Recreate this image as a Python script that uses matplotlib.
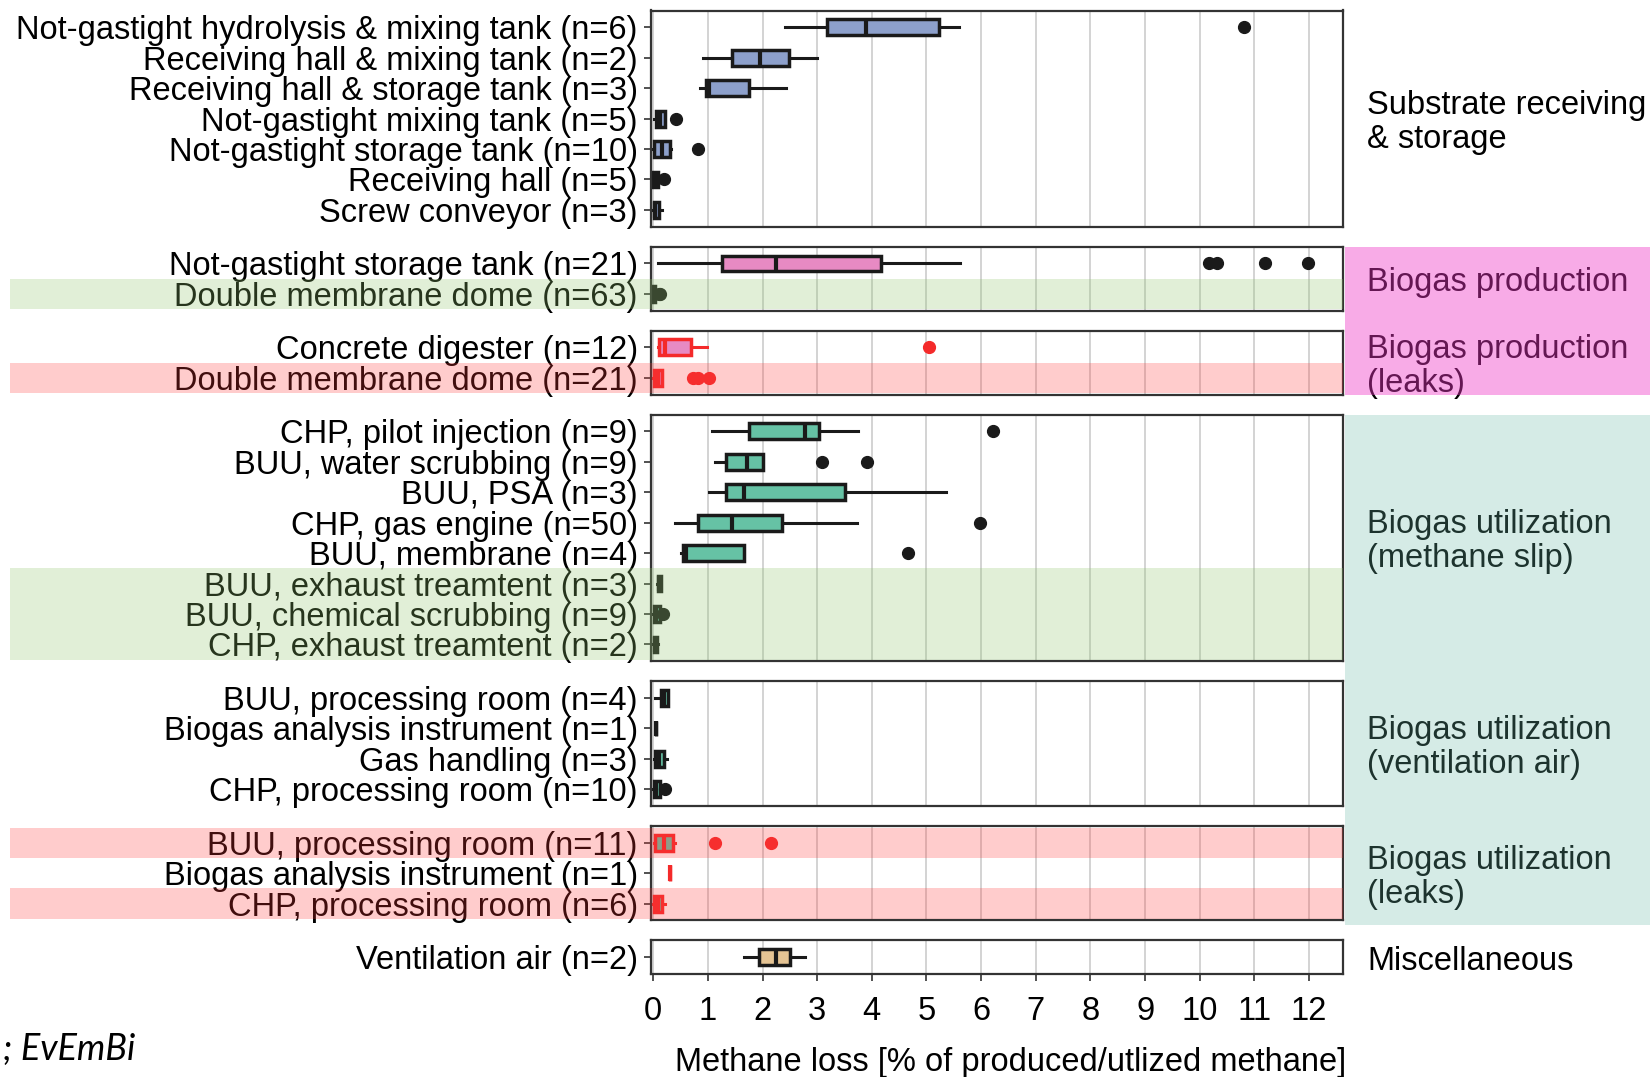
import matplotlib
matplotlib.use("Agg")
import matplotlib.pyplot as plt
from matplotlib.patches import Rectangle
from matplotlib.transforms import blended_transform_factory

# ---------------- data ----------------
panel_titles = ["Substrate receiving\n& storage", "Biogas production", "Biogas production\n(leaks)",
                "Biogas utilization\n(methane slip)", "Biogas utilization\n(ventilation air)",
                "Biogas utilization\n(leaks)", "Miscellaneous"]

substrate_labels = ["Not-gastight hydrolysis & mixing tank (n=6)", "Receiving hall & mixing tank (n=2)",
                    "Receiving hall & storage tank (n=3)", "Not-gastight mixing tank (n=5)",
                    "Not-gastight storage tank (n=10)", "Receiving hall (n=5)", "Screw conveyor (n=3)"]
# (whisker low, Q1, median, Q3, whisker high)
substrate_stats = [(2.42, 3.18, 3.90, 5.23, 5.60),
                   (0.92, 1.44, 1.96, 2.48, 2.99),
                   (0.86, 0.96, 1.03, 1.76, 2.43),
                   (0.02, 0.06, 0.12, 0.21, 0.22),
                   (0.00, 0.02, 0.17, 0.31, 0.33),
                   (0.00, 0.00, 0.03, 0.08, 0.09),
                   (0.00, 0.01, 0.04, 0.10, 0.16)]
substrate_outliers = [[10.80], [], [], [0.42], [0.82], [0.20], []]

production_labels = ["Not-gastight storage tank (n=21)", "Double membrane dome (n=63)"]
production_stats = [(0.09, 1.25, 2.25, 4.16, 5.62),
                    (0.00, 0.00, 0.01, 0.04, 0.08)]
production_outliers = [[10.17, 10.31, 11.19, 11.98], [0.11, 0.13]]

prod_leak_labels = ["Concrete digester (n=12)", "Double membrane dome (n=21)"]
prod_leak_stats = [(0.08, 0.11, 0.22, 0.70, 0.98),
                   (0.00, 0.01, 0.08, 0.17, 0.17)]
prod_leak_outliers = [[5.05], [0.72, 0.82, 1.02]]

slip_labels = ["CHP, pilot injection (n=9)", "BUU, water scrubbing (n=9)", "BUU, PSA (n=3)",
               "CHP, gas engine (n=50)", "BUU, membrane (n=4)", "BUU, exhaust treamtent (n=3)",
               "BUU, chemical scrubbing (n=9)", "CHP, exhaust treamtent (n=2)"]
slip_stats = [(1.07, 1.76, 2.77, 3.03, 3.75),
              (1.13, 1.33, 1.72, 2.01, 2.01),
              (1.02, 1.33, 1.66, 3.51, 5.35),
              (0.40, 0.82, 1.44, 2.35, 3.72),
              (0.50, 0.54, 0.60, 1.66, 1.66),
              (0.07, 0.08, 0.11, 0.14, 0.15),
              (0.00, 0.02, 0.06, 0.12, 0.14),
              (0.00, 0.01, 0.04, 0.07, 0.08)]
slip_outliers = [[6.21], [3.09, 3.91], [], [5.98], [4.67], [], [0.18], []]

vent_labels = ["BUU, processing room (n=4)", "Biogas analysis instrument (n=1)",
               "Gas handling (n=3)", "CHP, processing room (n=10)"]
vent_stats = [(0.03, 0.15, 0.20, 0.27, 0.28),
              (0.05, 0.05, 0.05, 0.05, 0.05),
              (0.02, 0.03, 0.10, 0.19, 0.25),
              (0.00, 0.02, 0.06, 0.13, 0.15)]
vent_outliers = [[], [], [], [0.22]]

util_leak_labels = ["BUU, processing room (n=11)", "Biogas analysis instrument (n=1)",
                    "CHP, processing room (n=6)"]
util_leak_stats = [(0.02, 0.03, 0.20, 0.36, 0.39),
                   (0.31, 0.31, 0.31, 0.31, 0.31),
                   (0.00, 0.01, 0.08, 0.17, 0.21)]
util_leak_outliers = [[1.13, 2.16], [], []]

misc_labels = ["Ventilation air (n=2)"]
misc_stats = [(1.67, 1.93, 2.24, 2.51, 2.78)]
misc_outliers = [[]]

x_ticks = list(range(0, 13))
x_label = "Methane loss [% of produced/utlized methane]"
source_text = "; EvEmBi"

# rows highlighted (panel index, row index)
green_rows = [(1, 1), (3, 5), (3, 6), (3, 7)]
red_rows = [(2, 1), (5, 0), (5, 2)]

# ---------------- style ----------------
plt.rcParams['font.family'] = ['Liberation Sans', 'DejaVu Sans']
FS = 23.5
BLUE, PINK, GREEN, TAN = "#8DA0CB", "#E78AC3", "#66C2A5", "#E5C494"
RED = "#F42A2A"
DARK = "#1a1a1a"

panels = [
    (substrate_labels, substrate_stats, substrate_outliers, BLUE, DARK),
    (production_labels, production_stats, production_outliers, PINK, DARK),
    (prod_leak_labels, prod_leak_stats, prod_leak_outliers, PINK, RED),
    (slip_labels, slip_stats, slip_outliers, GREEN, DARK),
    (vent_labels, vent_stats, vent_outliers, GREEN, DARK),
    (util_leak_labels, util_leak_stats, util_leak_outliers, GREEN, RED),
    (misc_labels, misc_stats, misc_outliers, TAN, DARK),
]

W, H, DPI = 1650, 1077, 100
fig = plt.figure(figsize=(W / DPI, H / DPI), dpi=DPI)
LEFT, RIGHT = 651, 1343
PITCH, GAP, TOP0, MARG = 30.45, 20.0, 10.5, 0.55
XMIN, XMAX = -0.04, 12.62

axes = []
tops, bottoms = [], []
top = TOP0
for pi, (labels, stats, outl, fill, edge) in enumerate(panels):
    n = len(labels)
    h = (n - 1 + 2 * MARG) * PITCH
    ax = fig.add_axes([LEFT / W, 1 - (top + h) / H, (RIGHT - LEFT) / W, h / H])
    tops.append(top)
    bottoms.append(top + h)
    top = top + h + GAP
    axes.append(ax)

    bstats = [dict(whislo=s[0], q1=s[1], med=s[2], q3=s[3], whishi=s[4], fliers=o)
              for s, o in zip(stats, outl)]
    kw = dict(positions=list(range(n)), widths=0.52, patch_artist=True, showcaps=False,
              boxprops=dict(facecolor=fill, edgecolor=edge, linewidth=2.5),
              whiskerprops=dict(color=edge, linewidth=2.2),
              medianprops=dict(color=edge, linewidth=3.0),
              flierprops=dict(marker='o', markerfacecolor=edge, markeredgecolor=edge,
                              markersize=8.5, linestyle='none'))
    try:
        ax.bxp(bstats, orientation='horizontal', **kw)
    except TypeError:
        ax.bxp(bstats, vert=False, **kw)

    ax.set_ylim(n - 1 + MARG, -MARG)
    ax.set_yticks(list(range(n)))
    ax.set_yticklabels(labels, fontsize=FS)
    ax.set_xlim(XMIN, XMAX)
    ax.set_xticks(x_ticks)
    ax.grid(axis='x', color='#cccccc', linewidth=1.2)
    ax.set_axisbelow(True)
    for sp in ax.spines.values():
        sp.set_color('#333333')
        sp.set_linewidth(1.6)
    ax.tick_params(axis='y', length=5, width=1.2, color='#333333', pad=4.5)
    if pi == len(panels) - 1:
        ax.tick_params(axis='x', length=5, width=1.2, color='#333333', pad=11, labelsize=FS)
    else:
        ax.tick_params(axis='x', bottom=False, labelbottom=False)

# row highlight bands (overlay)
def band(pi, r, color, alpha):
    ax = axes[pi]
    n = len(panels[pi][0])
    y0 = max(r - 0.5, -MARG)
    y1 = min(r + 0.5, n - 1 + MARG)
    tr = blended_transform_factory(fig.transFigure, ax.transData)
    fig.add_artist(Rectangle((10 / W, y0), (RIGHT - 10) / W, y1 - y0, transform=tr,
                             facecolor=color, alpha=alpha, linewidth=0, zorder=10))

for pi, r in green_rows:
    band(pi, r, (145 / 255, 198 / 255, 110 / 255), 0.27)
for pi, r in red_rows:
    band(pi, r, (1.0, 58 / 255, 58 / 255), 0.26)

# right side group labels
for pi, title in enumerate(panel_titles):
    cy = (tops[pi] + bottoms[pi]) / 2 + 4
    fig.text(1367 / W, 1 - cy / H, title, ha='left', va='center', fontsize=FS,
             linespacing=1.13, color='black', zorder=3)

def side_band(ytop, ybot, color, alpha):
    fig.add_artist(Rectangle((1345 / W, 1 - ybot / H), (W - 1345) / W, (ybot - ytop) / H,
                             transform=fig.transFigure, facecolor=color, alpha=alpha,
                             linewidth=0, zorder=10))

side_band(tops[1], bottoms[2], (240 / 255, 55 / 255, 200 / 255), 0.42)
side_band(tops[3], bottoms[5] + 5, (107 / 255, 186 / 255, 168 / 255), 0.28)

# axis title
fig.text(1011 / W, 1 - 1062 / H, x_label, ha='center', va='center', fontsize=FS)
# source note
fig.text(3 / W, 1 - 1049 / H, source_text, ha='left', va='center', fontsize=26,
         family=['Lato', 'DejaVu Sans'], style='italic')

fig.savefig("out.png", dpi=DPI)
